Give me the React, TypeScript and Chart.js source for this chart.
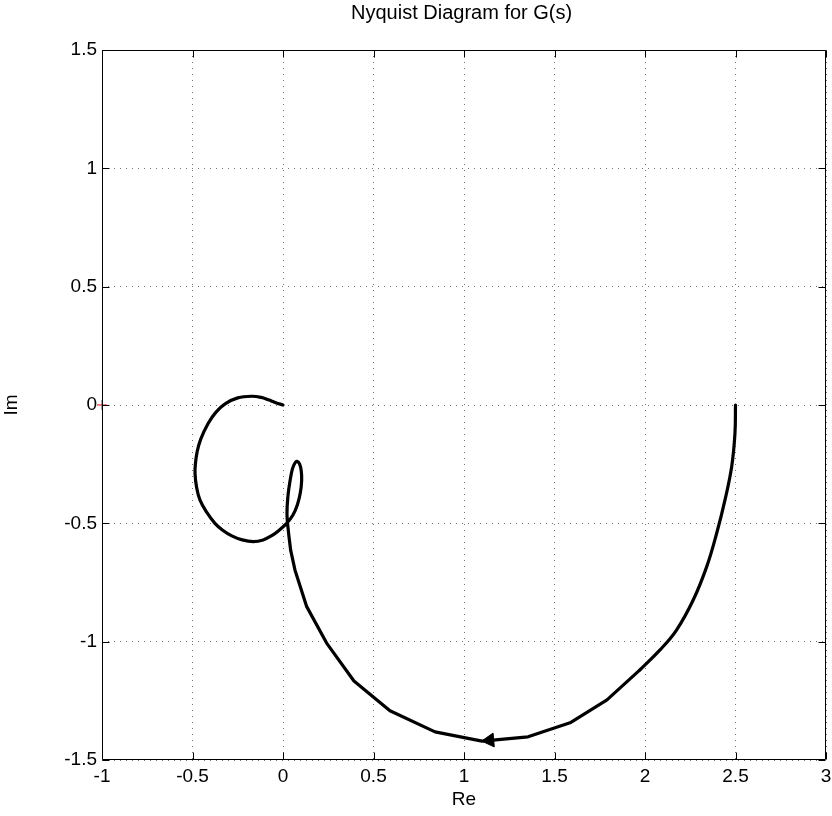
import React, { useEffect, useRef } from 'react';
import { Chart, registerables } from 'chart.js';

Chart.register(...registerables);

// Nyquist curve: smooth low-frequency arc starting at G(0)=2.5
const arcRe = [2.5, 2.497, 2.479, 2.442, 2.396, 2.341, 2.267, 2.175, 2.083, 1.972];
const arcIm = [0, -0.12, -0.26, -0.401, -0.542, -0.683, -0.823, -0.95, -1.035, -1.119];

// Coarsely sampled middle-frequency part
const midRe = [1.972, 1.79, 1.586, 1.354, 1.1, 0.84, 0.591, 0.392, 0.241, 0.131, 0.066, 0.042];
const midIm = [-1.119, -1.246, -1.343, -1.402, -1.42, -1.381, -1.292, -1.166, -1.006, -0.852, -0.697, -0.612];

// High-frequency spiral into the origin
const spiralRe = [0.042, 0.029, 0.022, 0.028, 0.039, 0.052, 0.066, 0.078, 0.092, 0.101, 0.103, 0.096, 0.08, 0.055, 0.02, -0.02, -0.062, -0.11, -0.164, -0.225, -0.283, -0.335, -0.376, -0.42, -0.459, -0.478, -0.486, -0.484, -0.475, -0.455, -0.413, -0.37, -0.32, -0.25, -0.173, -0.12, -0.081, -0.04, 0];
const spiralIm = [-0.612, -0.528, -0.46, -0.38, -0.32, -0.27, -0.245, -0.238, -0.25, -0.28, -0.32, -0.37, -0.42, -0.465, -0.5, -0.528, -0.552, -0.57, -0.577, -0.57, -0.553, -0.528, -0.5, -0.455, -0.401, -0.345, -0.289, -0.25, -0.2, -0.145, -0.077, -0.03, 0.005, 0.03, 0.037, 0.032, 0.022, 0.01, 0];

// Direction arrow on the curve
const arrowRe = [1.142];
const arrowIm = [-1.417];

// Critical point -1 + 0j
const criticalRe = [-1];
const criticalIm = [0];

const xTicks = [-1, -0.5, 0, 0.5, 1, 1.5, 2, 2.5, 3];
const xTickLabels = ['-1', '-0.5', '0', '0.5', '1', '1.5', '2', '2.5', '3'];
const yTicks = [-1.5, -1, -0.5, 0, 0.5, 1, 1.5];
const yTickLabels = ['-1.5', '-1', '-0.5', '0', '0.5', '1', '1.5'];

const FONT = "'Liberation Sans', Arial, Helvetica, sans-serif";
const FONT_SIZE = 19;
const TITLE_SIZE = 20;
const TICK_IN = 7;
const LINE_W = 3.2;
const PLOT_RIGHT = 826;

const toPoints = (xs: number[], ys: number[]) => xs.map((x, i) => ({ x, y: ys[i] }));

const framePlugin = {
  id: 'matlabFrame',
  afterLayout(chart: any) {
    const a = chart.chartArea;
    if (Math.abs(a.right - PLOT_RIGHT) > 0.01) {
      a.right = PLOT_RIGHT;
      a.width = a.right - a.left;
      const x = chart.scales.x;
      x.right = PLOT_RIGHT;
      x.width = PLOT_RIGHT - x.left;
      x.configure();
    }
  },
  afterDatasetsDraw(chart: any) {
    const { ctx, chartArea: a, scales } = chart;
    ctx.save();
    ctx.strokeStyle = '#000';
    ctx.lineWidth = 1;
    ctx.beginPath();
    const L = Math.round(a.left) + 0.5;
    const R = Math.round(a.right) - 0.5;
    const T = Math.round(a.top) + 0.5;
    const B = Math.round(a.bottom) - 0.5;
    ctx.rect(L, T, R - L, B - T);
    for (const v of xTicks) {
      const px = Math.round(scales.x.getPixelForValue(v)) + 0.5;
      ctx.moveTo(px, B);
      ctx.lineTo(px, B - TICK_IN);
      ctx.moveTo(px, T);
      ctx.lineTo(px, T + TICK_IN);
    }
    for (const v of yTicks) {
      const py = Math.round(scales.y.getPixelForValue(v)) + 0.5;
      ctx.moveTo(L, py);
      ctx.lineTo(L + TICK_IN, py);
      ctx.moveTo(R, py);
      ctx.lineTo(R - TICK_IN, py);
    }
    ctx.stroke();
    ctx.restore();
  },
};

const curve = (xs: number[], ys: number[], tension: number) =>
  ({
    data: toPoints(xs, ys),
    showLine: true,
    borderColor: '#000',
    borderWidth: LINE_W,
    pointRadius: 0,
    tension,
    borderJoinStyle: 'round',
    borderCapStyle: 'round',
    clip: false,
  }) as any;

export default function App() {
  const ref = useRef<HTMLCanvasElement | null>(null);

  useEffect(() => {
    document.body.style.margin = '0';
    const canvas = ref.current;
    if (!canvas) return;
    const tickFont = { family: FONT, size: FONT_SIZE };
    const chart = new Chart(canvas, {
      type: 'scatter',
      data: {
        datasets: [
          {
            data: toPoints(criticalRe, criticalIm),
            showLine: false,
            pointStyle: 'cross',
            pointRadius: 5,
            borderColor: '#ff0000',
            backgroundColor: '#ff0000',
            borderWidth: 1,
            clip: false,
          } as any,
          curve(arcRe, arcIm, 0.4),
          curve(midRe, midIm, 0),
          curve(spiralRe, spiralIm, 0.4),
          {
            data: toPoints(arrowRe, arrowIm),
            showLine: false,
            pointStyle: 'triangle',
            pointRadius: 8,
            pointRotation: -95,
            borderColor: '#000',
            backgroundColor: '#000',
            borderWidth: 1,
          } as any,
        ],
      },
      options: {
        responsive: false,
        animation: false,
        events: [],
        layout: { padding: { left: 0, right: 6, top: 0, bottom: 0 } },
        plugins: {
          legend: { display: false },
          tooltip: { enabled: false },
          title: {
            display: true,
            fullSize: false,
            text: 'Nyquist Diagram for G(s)',
            color: '#000',
            font: { family: FONT, size: TITLE_SIZE, weight: 'normal' },
            padding: { top: 1, bottom: 25 },
          },
        },
        scales: {
          x: {
            type: 'linear',
            min: -1,
            max: 3,
            afterBuildTicks: (s: any) => {
              s.ticks = xTicks.map((value) => ({ value }));
            },
            afterFit: (s: any) => {
              s.height = 56;
            },
            ticks: {
              callback: (_v: any, i: number) => xTickLabels[i],
              color: '#000',
              font: tickFont,
              padding: 5.5,
              maxRotation: 0,
              autoSkip: false,
            },
            grid: { color: 'rgba(0,0,0,0.55)', lineWidth: 1, drawTicks: false },
            border: { display: false, dash: [1, 5] },
            title: {
              display: true,
              text: 'Re',
              color: '#000',
              font: tickFont,
              padding: { top: 0, bottom: 4.6 },
            },
          },
          y: {
            type: 'linear',
            min: -1.5,
            max: 1.5,
            afterBuildTicks: (s: any) => {
              s.ticks = yTicks.map((value) => ({ value }));
            },
            afterFit: (s: any) => {
              s.width = 102;
            },
            ticks: {
              callback: (_v: any, i: number) => yTickLabels[i],
              color: '#000',
              font: tickFont,
              padding: 5,
              autoSkip: false,
            },
            grid: { color: 'rgba(0,0,0,0.55)', lineWidth: 1, drawTicks: false },
            border: { display: false, dash: [1, 5] },
            title: {
              display: true,
              text: 'Im',
              color: '#000',
              font: tickFont,
              padding: { top: 0, bottom: 0 },
            },
          },
        },
      } as any,
      plugins: [framePlugin],
    });
    return () => chart.destroy();
  }, []);

  return (
    <div style={{ position: 'absolute', left: 0, top: 0, width: 832, height: 816, background: '#fff' }}>
      <canvas ref={ref} width={832} height={816} style={{ display: 'block', width: 832, height: 816 }} />
    </div>
  );
}
